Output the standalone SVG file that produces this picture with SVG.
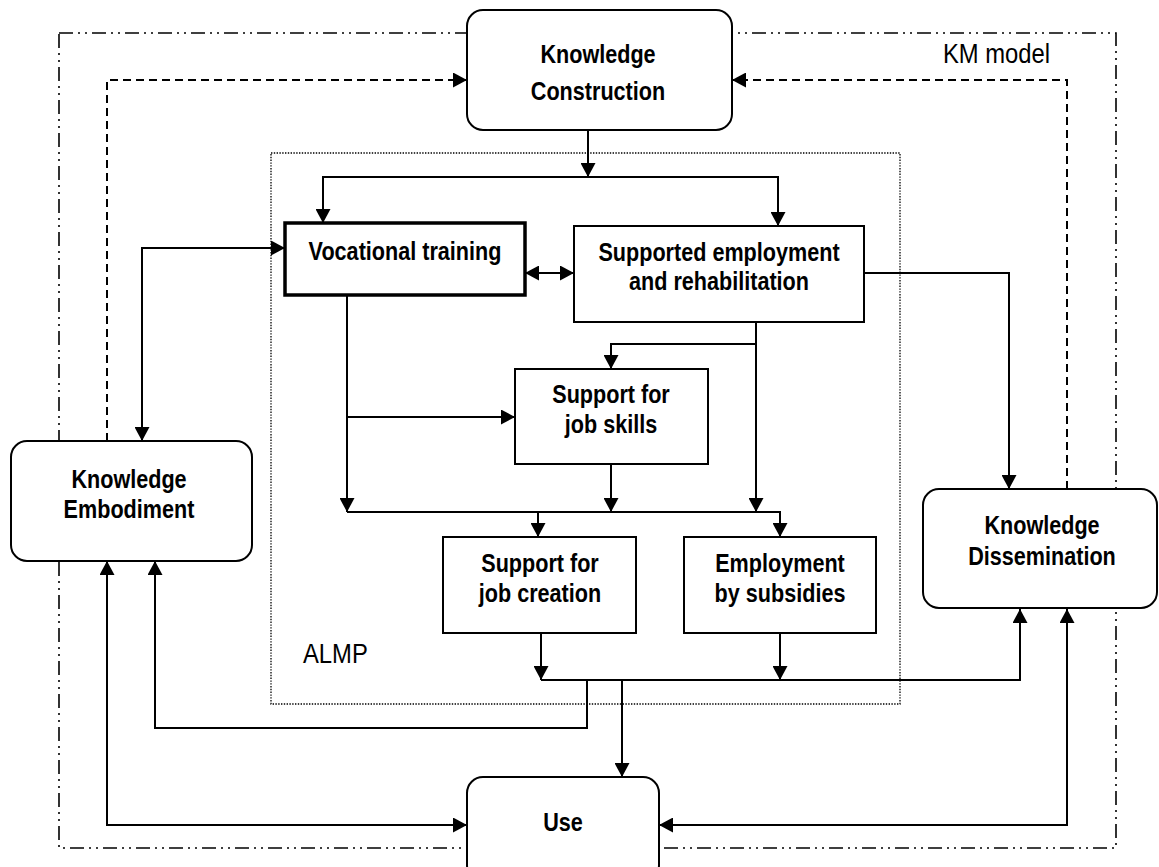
<svg xmlns="http://www.w3.org/2000/svg" width="1159" height="867" viewBox="0 0 1159 867">
<style>
.bg{fill:#fff}
.outer{fill:none;stroke:#000;stroke-width:1.6;stroke-dasharray:14 5 2 5 2 5}
.almp{fill:none;stroke:#000;stroke-width:1.3;stroke-dasharray:1.4 1.4}
.node{fill:#fff;stroke:#000;stroke-width:2}
.thick{fill:#fff;stroke:#000;stroke-width:3.5}
.ln{fill:none;stroke:#000;stroke-width:2}
.dash{fill:none;stroke:#000;stroke-width:2;stroke-dasharray:8 5}
.t{font-family:"Liberation Sans",Arial,sans-serif;font-weight:bold;font-size:21.6px;text-anchor:middle;fill:#000}
.r{font-family:"Liberation Sans",Arial,sans-serif;font-size:23.8px;fill:#000}
</style>
<defs>
<marker id="ah" viewBox="0 0 14 15" refX="14" refY="7.5" markerWidth="14" markerHeight="15" markerUnits="userSpaceOnUse" orient="auto-start-reverse">
<path d="M0,0 L14,7.5 L0,15 z" fill="#000"/>
</marker>
</defs>
<rect class="bg" x="0" y="0" width="1159" height="867"/>
<g id="frames">
<rect class="outer" x="59" y="33" width="1057" height="815"/>
<rect class="almp" x="271" y="153" width="629" height="551"/>
<text class="r" transform="translate(943,63) scale(1,1.17)">KM model</text>
<text class="r" transform="translate(303,663) scale(1,1.17)">ALMP</text>
</g>
<g id="connectors">
<path class="dash" d="M107,441 V80 H467" marker-end="url(#ah)"/>
<path class="dash" d="M1067,489 V80 H732" marker-end="url(#ah)"/>
<path class="ln" d="M588,130 V177" marker-end="url(#ah)"/>
<path class="ln" d="M323,223 V177 H778 V226" marker-start="url(#ah)" marker-end="url(#ah)"/>
<path class="ln" d="M525,273 H574" marker-start="url(#ah)" marker-end="url(#ah)"/>
<path class="ln" d="M142,441 V248 H285" marker-start="url(#ah)" marker-end="url(#ah)"/>
<path class="ln" d="M864,273 H1009 V489" marker-end="url(#ah)"/>
<path class="ln" d="M347,295 V512" marker-end="url(#ah)"/>
<path class="ln" d="M347,417 H515" marker-end="url(#ah)"/>
<path class="ln" d="M756,322 V512" marker-end="url(#ah)"/>
<path class="ln" d="M756,344 H611 V369" marker-end="url(#ah)"/>
<path class="ln" d="M611,464 V512" marker-end="url(#ah)"/>
<path class="ln" d="M347,512 H780 V537" marker-end="url(#ah)"/>
<path class="ln" d="M538,512 V537" marker-end="url(#ah)"/>
<path class="ln" d="M541,633 V680" marker-end="url(#ah)"/>
<path class="ln" d="M780,633 V680" marker-end="url(#ah)"/>
<path class="ln" d="M541,680 H1020 V609" marker-end="url(#ah)"/>
<path class="ln" d="M622,680 V777" marker-end="url(#ah)"/>
<path class="ln" d="M587,680 V728 H155 V561" marker-end="url(#ah)"/>
<path class="ln" d="M107,561 V825 H467" marker-start="url(#ah)" marker-end="url(#ah)"/>
<path class="ln" d="M1067,609 V825 H659" marker-start="url(#ah)" marker-end="url(#ah)"/>
</g>
<g id="knowledge-construction">
<rect class="node" x="467" y="10" width="265" height="120" rx="16"/>
<text class="t" transform="translate(598,63) scale(1,1.17)">Knowledge</text>
<text class="t" transform="translate(598,100) scale(1,1.17)">Construction</text>
</g>
<g id="knowledge-embodiment">
<rect class="node" x="11" y="441" width="241" height="120" rx="16"/>
<text class="t" transform="translate(129,488) scale(1,1.17)">Knowledge</text>
<text class="t" transform="translate(129,518) scale(1,1.17)">Embodiment</text>
</g>
<g id="knowledge-dissemination">
<rect class="node" x="923" y="489" width="234" height="119" rx="16"/>
<text class="t" transform="translate(1042,534) scale(1,1.17)">Knowledge</text>
<text class="t" transform="translate(1042,565) scale(1,1.17)">Dissemination</text>
</g>
<g id="use">
<rect class="node" x="467" y="777" width="192" height="104" rx="16"/>
<text class="t" transform="translate(563,831) scale(1,1.17)">Use</text>
</g>
<g id="vocational-training">
<rect class="thick" x="285" y="223" width="240" height="72"/>
<text class="t" transform="translate(405,260) scale(1,1.17)">Vocational training</text>
</g>
<g id="supported-employment">
<rect class="node" x="574" y="226" width="290" height="96"/>
<text class="t" transform="translate(719,261) scale(1,1.17)">Supported employment</text>
<text class="t" transform="translate(719,290) scale(1,1.17)">and rehabilitation</text>
</g>
<g id="support-job-skills">
<rect class="node" x="515" y="369" width="193" height="95"/>
<text class="t" transform="translate(611,403) scale(1,1.17)">Support for</text>
<text class="t" transform="translate(611,433) scale(1,1.17)">job skills</text>
</g>
<g id="support-job-creation">
<rect class="node" x="443" y="537" width="193" height="96"/>
<text class="t" transform="translate(540,572) scale(1,1.17)">Support for</text>
<text class="t" transform="translate(540,602) scale(1,1.17)">job creation</text>
</g>
<g id="employment-subsidies">
<rect class="node" x="684" y="537" width="192" height="96"/>
<text class="t" transform="translate(780,572) scale(1,1.17)">Employment</text>
<text class="t" transform="translate(780,602) scale(1,1.17)">by subsidies</text>
</g>
</svg>
